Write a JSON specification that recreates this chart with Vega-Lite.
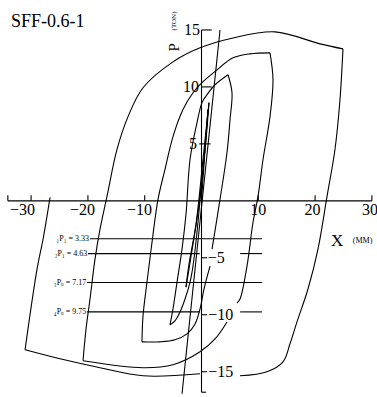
{
  "$schema": "https://vega.github.io/schema/vega-lite/v6.json",
  "width": 377,
  "height": 397,
  "padding": 0,
  "autosize": {"type": "none"},
  "background": "white",
  "config": {"view": {"stroke": null}, "text": {"font": "Liberation Serif, DejaVu Serif, serif", "color": "black"}},
  "datasets": {
    "curve": [
      {"o":1,"seg":"A","x":0,"y":0},
      {"o":2,"seg":"A","x":0.62,"y":4.51},
      {"o":3,"seg":"A","x":1.14,"y":8.01},
      {"o":3,"seg":"B","x":1.14,"y":8.01},
      {"o":4,"seg":"B","x":0.44,"y":3.63},
      {"o":5,"seg":"B","x":-0.44,"y":-0.31},
      {"o":6,"seg":"B","x":-1.5,"y":-3.81},
      {"o":7,"seg":"B","x":-2.73,"y":-7.57},
      {"o":7,"seg":"C","x":-2.73,"y":-7.57},
      {"o":8,"seg":"C","x":-2.2,"y":-5.56},
      {"o":9,"seg":"C","x":-0.97,"y":-2.06},
      {"o":10,"seg":"C","x":0.26,"y":3.63},
      {"o":11,"seg":"C","x":1.32,"y":8.62},
      {"o":11,"seg":"D","x":1.32,"y":8.62},
      {"o":12,"seg":"D","x":0.79,"y":5.37},
      {"o":13,"seg":"D","x":-0.09,"y":1.01},
      {"o":14,"seg":"D","x":-0.79,"y":-2.76},
      {"o":15,"seg":"D","x":-1.5,"y":-5.73},
      {"o":16,"seg":"D","x":-2.02,"y":-7.13},
      {"o":17,"seg":"D","x":-2.9,"y":-8.62},
      {"o":18,"seg":"D","x":-3.79,"y":-9.76},
      {"o":19,"seg":"D","x":-4.67,"y":-10.54},
      {"o":20,"seg":"D","x":-5.55,"y":-10.89},
      {"o":20,"seg":"E","x":-5.55,"y":-10.89},
      {"o":21,"seg":"E","x":-5.02,"y":-9.49},
      {"o":22,"seg":"E","x":-4.31,"y":-7.13},
      {"o":23,"seg":"E","x":-3.43,"y":-4.24},
      {"o":24,"seg":"E","x":-2.73,"y":-1.18},
      {"o":25,"seg":"E","x":-2.02,"y":3.63},
      {"o":26,"seg":"E","x":-0.79,"y":6.87},
      {"o":27,"seg":"E","x":0.09,"y":8.62},
      {"o":28,"seg":"E","x":0.97,"y":9.32},
      {"o":29,"seg":"E","x":2.38,"y":10.19},
      {"o":30,"seg":"E","x":4.67,"y":11.07},
      {"o":30,"seg":"F","x":4.67,"y":11.07},
      {"o":31,"seg":"F","x":5.37,"y":9.49},
      {"o":32,"seg":"F","x":5.02,"y":7.13},
      {"o":33,"seg":"F","x":4.49,"y":4.24},
      {"o":34,"seg":"F","x":3.26,"y":0.13},
      {"o":35,"seg":"F","x":1.85,"y":-4.24},
      {"o":36,"seg":"G","x":1.5,"y":-5.73},
      {"o":37,"seg":"G","x":0.44,"y":-7.74},
      {"o":38,"seg":"G","x":-0.26,"y":-9.49},
      {"o":39,"seg":"G","x":-1.14,"y":-10.81},
      {"o":40,"seg":"G","x":-2.55,"y":-11.68},
      {"o":41,"seg":"G","x":-4.67,"y":-12.2},
      {"o":42,"seg":"G","x":-7.31,"y":-12.38},
      {"o":43,"seg":"G","x":-10.48,"y":-12.38},
      {"o":43,"seg":"H","x":-10.48,"y":-12.38},
      {"o":44,"seg":"H","x":-10.3,"y":-10.11},
      {"o":45,"seg":"H","x":-9.6,"y":-7.13},
      {"o":46,"seg":"H","x":-8.71,"y":-3.63},
      {"o":47,"seg":"H","x":-7.66,"y":0.13},
      {"o":48,"seg":"H","x":-6.43,"y":2.76},
      {"o":49,"seg":"H","x":-5.02,"y":5.64},
      {"o":50,"seg":"H","x":-3.26,"y":8.01},
      {"o":51,"seg":"H","x":-1.5,"y":9.49},
      {"o":52,"seg":"H","x":0.26,"y":10.46},
      {"o":53,"seg":"H","x":2.73,"y":11.5},
      {"o":54,"seg":"H","x":5.55,"y":12.55},
      {"o":55,"seg":"H","x":8.54,"y":12.9},
      {"o":56,"seg":"H","x":12.06,"y":12.99},
      {"o":56,"seg":"I","x":12.06,"y":12.99},
      {"o":57,"seg":"I","x":12.59,"y":10.63},
      {"o":58,"seg":"I","x":12.06,"y":7.39},
      {"o":59,"seg":"I","x":10.83,"y":3.63},
      {"o":60,"seg":"I","x":9.95,"y":0.39},
      {"o":61,"seg":"I","x":9.07,"y":-1.88},
      {"o":62,"seg":"I","x":8.01,"y":-5.73},
      {"o":63,"seg":"I","x":6.78,"y":-8.62},
      {"o":64,"seg":"I","x":6.25,"y":-8.97},
      {"o":65,"seg":"J","x":4.49,"y":-10.63},
      {"o":66,"seg":"J","x":2.38,"y":-12.12},
      {"o":67,"seg":"J","x":-0.26,"y":-13.25},
      {"o":68,"seg":"J","x":-5.02,"y":-14.39},
      {"o":69,"seg":"J","x":-10.3,"y":-14.65},
      {"o":70,"seg":"J","x":-20.86,"y":-14.04},
      {"o":70,"seg":"K","x":-20.86,"y":-14.04},
      {"o":71,"seg":"K","x":-20.33,"y":-11.24},
      {"o":72,"seg":"K","x":-19.63,"y":-8.62},
      {"o":73,"seg":"K","x":-18.75,"y":-5.12},
      {"o":74,"seg":"K","x":-17.87,"y":-2.49},
      {"o":75,"seg":"K","x":-16.64,"y":0.39},
      {"o":76,"seg":"K","x":-14.88,"y":4.51},
      {"o":77,"seg":"K","x":-12.94,"y":7.39},
      {"o":78,"seg":"K","x":-10.3,"y":9.93},
      {"o":79,"seg":"K","x":-5.02,"y":12.2},
      {"o":80,"seg":"K","x":-0.26,"y":13.43},
      {"o":81,"seg":"K","x":5.55,"y":14.3},
      {"o":82,"seg":"K","x":12.94,"y":14.83},
      {"o":83,"seg":"K","x":20.86,"y":13.78},
      {"o":84,"seg":"K","x":24.91,"y":13.34},
      {"o":84,"seg":"L","x":24.91,"y":13.34},
      {"o":85,"seg":"L","x":24.38,"y":8.88},
      {"o":86,"seg":"L","x":23.5,"y":4.51},
      {"o":87,"seg":"L","x":22.1,"y":0.39},
      {"o":88,"seg":"L","x":20.51,"y":-4.24},
      {"o":89,"seg":"L","x":18.75,"y":-7.74},
      {"o":90,"seg":"L","x":16.81,"y":-10.63},
      {"o":91,"seg":"L","x":15.58,"y":-12.55},
      {"o":92,"seg":"L","x":14.35,"y":-14.13},
      {"o":93,"seg":"L","x":11.53,"y":-15.0},
      {"o":94,"seg":"L","x":6.78,"y":-15.36},
      {"o":95,"seg":"M","x":-0.26,"y":-15.18},
      {"o":96,"seg":"M","x":-10.3,"y":-15.36},
      {"o":97,"seg":"M","x":-17.87,"y":-14.65},
      {"o":98,"seg":"M","x":-24.91,"y":-13.87},
      {"o":99,"seg":"M","x":-31.07,"y":-13.08},
      {"o":99,"seg":"N","x":-31.07,"y":-13.08},
      {"o":100,"seg":"N","x":-28.96,"y":-5.99},
      {"o":101,"seg":"N","x":-27.9,"y":-3.37},
      {"o":102,"seg":"N","x":-26.67,"y":0.31}
    ],
    "rules": [
      {"x":-34.1,"y":0,"x2":30,"y2":0},
      {"x":-34.1,"y":0,"x2":-34.1,"y2":0.5},
      {"x":-30,"y":0,"x2":-30,"y2":0.5},
      {"x":-20,"y":0,"x2":-20,"y2":0.5},
      {"x":-10,"y":0,"x2":-10,"y2":0.5},
      {"x":10,"y":0,"x2":10,"y2":0.5},
      {"x":20,"y":0,"x2":20,"y2":0.5},
      {"x":30,"y":0,"x2":30,"y2":0.5},
      {"x":0,"y":15,"x2":0,"y2":-16.8},
      {"x":0,"y":15,"x2":1.8,"y2":15},
      {"x":0,"y":10,"x2":1.8,"y2":10},
      {"x":-0.4,"y":5,"x2":1.6,"y2":5},
      {"x":0,"y":-5,"x2":1.0,"y2":-5},
      {"x":0,"y":-10,"x2":1.0,"y2":-10},
      {"x":0,"y":-15,"x2":1.0,"y2":-15},
      {"x":0,"y":-16.8,"x2":0.8,"y2":-16.8},
      {"x":3.26,"y":15,"x2":-3.43,"y2":-16.93},
      {"x":-19.63,"y":-3.33,"x2":10.65,"y2":-3.33},
      {"x":-19.98,"y":-4.63,"x2":-0.3,"y2":-4.63},
      {"x":6.8,"y":-4.63,"x2":10.65,"y2":-4.63},
      {"x":-20.16,"y":-7.17,"x2":10.65,"y2":-7.17},
      {"x":-20.16,"y":-9.75,"x2":-0.3,"y2":-9.75},
      {"x":6.8,"y":-9.75,"x2":10.65,"y2":-9.75}
    ],
    "texts": [
      {"role":"title","x":-33.54,"y":15.27,"label":"SFF-0.6-1"},
      {"role":"xneg","x":-29.3,"y":-0.8,"label":"−30"},
      {"role":"xneg","x":-18.75,"y":-0.8,"label":"−20"},
      {"role":"xneg","x":-8.71,"y":-0.8,"label":"−10"},
      {"role":"xpos","x":10.0,"y":-0.8,"label":"10"},
      {"role":"xpos","x":19.54,"y":-0.8,"label":"20"},
      {"role":"xpos","x":29.67,"y":-0.8,"label":"30"},
      {"role":"ypos","x":-0.26,"y":15,"label":"15"},
      {"role":"ypos","x":-0.44,"y":10,"label":"10"},
      {"role":"ypos","x":-0.79,"y":5,"label":"5"},
      {"role":"yneg","x":1.1,"y":-5,"label":"−5"},
      {"role":"yneg","x":1.2,"y":-10,"label":"−10"},
      {"role":"yneg","x":1.2,"y":-15,"label":"−15"},
      {"role":"plab","x":-19.8,"y":-3.33,"label":"₁P₁ = 3.33"},
      {"role":"plab","x":-20.1,"y":-4.63,"label":"₂P₁ = 4.63"},
      {"role":"plab","x":-20.3,"y":-7.17,"label":"₃Pᵤ = 7.17"},
      {"role":"plab","x":-20.3,"y":-9.75,"label":"₄Pᵤ = 9.75"},
      {"role":"ptitle","x":-4.84,"y":13.47,"label":"P"},
      {"role":"punit","x":-4.84,"y":15.79,"label":"(TON)"},
      {"role":"xtitle","x":23.86,"y":-3.54,"label":"X"},
      {"role":"xunit","x":28.35,"y":-3.54,"label":"(MM)"}
    ]
  },
  "encoding": {
    "x": {"field": "x", "type": "quantitative", "scale": {"domain": [-35.48, 30.9], "nice": false, "zero": false}, "axis": null},
    "y": {"field": "y", "type": "quantitative", "scale": {"domain": [-17.22, 17.63], "nice": false, "zero": false}, "axis": null}
  },
  "layer": [
    {
      "data": {"name": "rules"},
      "mark": {"type": "rule", "color": "black", "strokeWidth": 1.1},
      "encoding": {"x2": {"field": "x2"}, "y2": {"field": "y2"}}
    },
    {
      "data": {"name": "curve"},
      "mark": {"type": "line", "color": "black", "strokeWidth": 1.1, "interpolate": "catmull-rom"},
      "encoding": {"order": {"field": "o", "type": "quantitative"}, "detail": {"field": "seg", "type": "nominal"}}
    },
    {
      "data": {"name": "texts"},
      "transform": [{"filter": {"field": "role", "equal": "title"}}],
      "mark": {"type": "text", "align": "left", "baseline": "alphabetic", "fontSize": 18},
      "encoding": {"text": {"field": "label"}}
    },
    {
      "data": {"name": "texts"},
      "transform": [{"filter": {"field": "role", "equal": "xneg"}}],
      "mark": {"type": "text", "align": "right", "baseline": "middle", "fontSize": 16},
      "encoding": {"text": {"field": "label"}}
    },
    {
      "data": {"name": "texts"},
      "transform": [{"filter": {"field": "role", "equal": "xpos"}}],
      "mark": {"type": "text", "align": "center", "baseline": "middle", "fontSize": 16},
      "encoding": {"text": {"field": "label"}}
    },
    {
      "data": {"name": "texts"},
      "transform": [{"filter": {"field": "role", "equal": "ypos"}}],
      "mark": {"type": "text", "align": "right", "baseline": "middle", "fontSize": 16},
      "encoding": {"text": {"field": "label"}}
    },
    {
      "data": {"name": "texts"},
      "transform": [{"filter": {"field": "role", "equal": "yneg"}}],
      "mark": {"type": "text", "align": "left", "baseline": "middle", "fontSize": 16},
      "encoding": {"text": {"field": "label"}}
    },
    {
      "data": {"name": "texts"},
      "transform": [{"filter": {"field": "role", "equal": "plab"}}],
      "mark": {"type": "text", "align": "right", "baseline": "middle", "fontSize": 8},
      "encoding": {"text": {"field": "label"}}
    },
    {
      "data": {"name": "texts"},
      "transform": [{"filter": {"field": "role", "equal": "ptitle"}}],
      "mark": {"type": "text", "align": "center", "baseline": "middle", "angle": 270, "fontSize": 15},
      "encoding": {"text": {"field": "label"}}
    },
    {
      "data": {"name": "texts"},
      "transform": [{"filter": {"field": "role", "equal": "punit"}}],
      "mark": {"type": "text", "align": "center", "baseline": "middle", "angle": 270, "fontSize": 7},
      "encoding": {"text": {"field": "label"}}
    },
    {
      "data": {"name": "texts"},
      "transform": [{"filter": {"field": "role", "equal": "xtitle"}}],
      "mark": {"type": "text", "align": "center", "baseline": "middle", "fontSize": 17},
      "encoding": {"text": {"field": "label"}}
    },
    {
      "data": {"name": "texts"},
      "transform": [{"filter": {"field": "role", "equal": "xunit"}}],
      "mark": {"type": "text", "align": "center", "baseline": "middle", "fontSize": 8},
      "encoding": {"text": {"field": "label"}}
    }
  ]
}
